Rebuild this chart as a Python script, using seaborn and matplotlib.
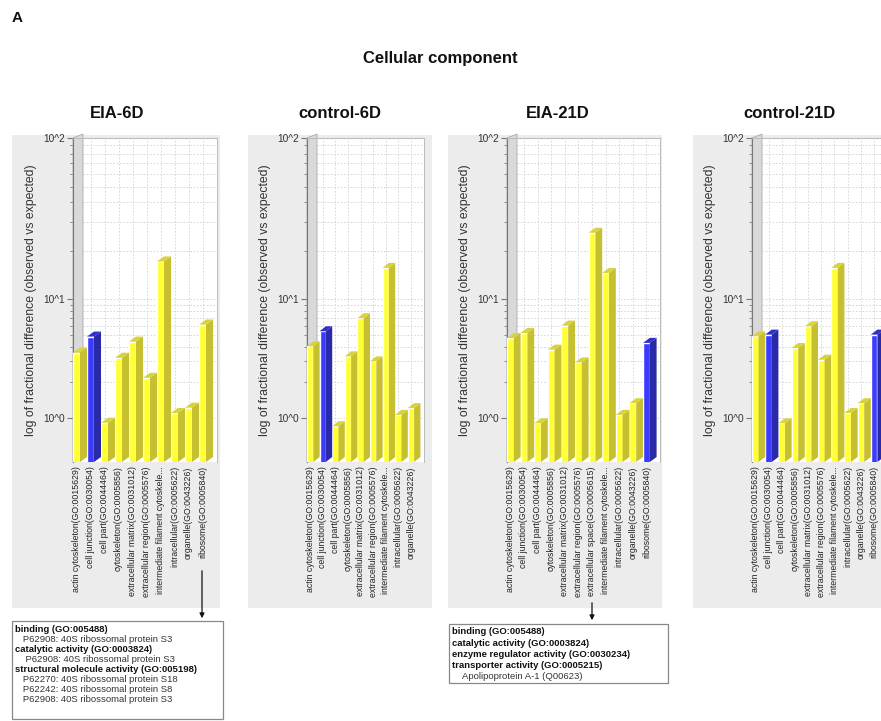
import numpy as np
import pandas as pd
import seaborn as sns
import matplotlib.pyplot as plt
from matplotlib.patches import Polygon, Rectangle, FancyArrowPatch

sns.set_style("white")
plt.rcParams['font.family'] = ['Liberation Sans', 'DejaVu Sans']

# GO cellular component terms
actin = "actin cytoskeleton(GO:0015629)"
junction = "cell junction(GO:0030054)"
cellpart = "cell part(GO:0044464)"
cytosk = "cytoskeleton(GO:0005856)"
ecm = "extracellular matrix(GO:0031012)"
ecreg = "extracellular region(GO:0005576)"
ecspace = "extracellular space(GO:0005615)"
intfil = "intermediate filament cytoskele..."
intra = "intracellular(GO:0005622)"
organelle = "organelle(GO:0043226)"
ribosome = "ribosome(GO:0005840)"

# values (fold: observed vs expected)
cats_eia6 = [actin, junction, cellpart, cytosk, ecm, ecreg, intfil, intra, organelle, ribosome]
vals_eia6 = [3.56, 4.86, 0.91, 3.22, 4.41, 2.18, 17.2, 1.10, 1.22, 6.14]
blue_eia6 = [junction]

cats_ctl6 = [actin, junction, cellpart, cytosk, ecm, ecreg, intfil, intra, organelle]
vals_ctl6 = [4.02, 5.39, 0.85, 3.31, 6.95, 3.00, 15.7, 1.06, 1.21]
blue_ctl6 = [junction]

cats_eia21 = [actin, junction, cellpart, cytosk, ecm, ecreg, ecspace, intfil, intra, organelle, ribosome]
vals_eia21 = [4.73, 5.22, 0.90, 3.77, 6.02, 2.94, 25.9, 14.6, 1.06, 1.33, 4.30]
blue_eia21 = [ribosome]

cats_ctl21 = [actin, junction, cellpart, cytosk, ecm, ecreg, intfil, intra, organelle, ribosome]
vals_ctl21 = [4.89, 5.05, 0.90, 3.89, 5.94, 3.10, 15.7, 1.10, 1.33, 5.05]
blue_ctl21 = [junction, ribosome]

box1_lines = [("binding (GO:005488)", True),
              ("   P62908: 40S ribossomal protein S3", False),
              ("catalytic activity (GO:0003824)", True),
              ("    P62908: 40S ribossomal protein S3", False),
              ("structural molecule activity (GO:005198)", True),
              ("   P62270: 40S ribossomal protein S18", False),
              ("   P62242: 40S ribossomal protein S8", False),
              ("   P62908: 40S ribossomal protein S3", False)]
box2_lines = [("binding (GO:005488)", True),
              ("catalytic activity (GO:0003824)", True),
              ("enzyme regulator activity (GO:0030234)", True),
              ("transporter activity (GO:0005215)", True),
              ("    Apolipoprotein A-1 (Q00623)", False)]

Y_FRONT, Y_SIDE, Y_TOP = "#ffff33", "#c6bf30", "#d8d23c"
B_FRONT, B_SIDE, B_TOP = "#3b3bff", "#2a2aa8", "#3030c8"

# the y axis in the picture is log but decades are not equally tall
LO, HI = 118.0, 161.0


def fwd(v):
    L = np.log10(np.clip(v, 1e-6, None))
    return np.where(L <= 1, L * LO, LO + (L - 1) * HI)


def inv(u):
    u = np.asarray(u, dtype=float)
    return np.where(u <= LO, 10 ** (u / LO), 10 ** (1 + (u - LO) / HI))


FLOOR = -44.0
D, DY = 0.5, 5.0

W, H = 881, 721
fig = plt.figure(figsize=(W / 100, H / 100), dpi=100)


def fx(x):
    return x / W


def fy(y):
    return 1 - y / H


def draw_panel(left, unit, cats, vals, blues, title, tcx):
    n = len(cats)
    wpx = (n + 0.25) * unit
    ax = fig.add_axes([fx(left), fy(462), wpx / W, (462 - 138) / H])
    df = pd.DataFrame({"term": cats, "value": vals})
    df["kind"] = np.where(df["term"].isin(blues), "blue", "yellow")
    sns.barplot(data=df, x="term", y="value", hue="kind", order=cats,
                palette={"yellow": Y_FRONT, "blue": B_FRONT}, width=0.5,
                dodge=False, legend=False, saturation=1, ax=ax, zorder=3)
    ax.set_yscale("function", functions=(fwd, inv))
    ax.set_ylim(float(inv(FLOOR)), 100)
    ax.set_xlim(-0.25, n)

    for p in ax.patches:
        top = p.get_height()
        if not np.isfinite(top) or top <= 0:
            continue
        x0 = p.get_x()
        x1 = x0 + p.get_width()
        i = int(round(x0 + p.get_width() / 2))
        is_blue = df["kind"].iloc[i] == "blue"
        ut = float(fwd(top))
        yb = float(inv(FLOOR))
        ybs = float(inv(FLOOR + DY))
        yts = float(inv(ut + DY))
        side = [(x1, yb), (x1 + D, ybs), (x1 + D, yts), (x1, top)]
        topf = [(x0, top), (x0 + D, yts), (x1 + D, yts), (x1, top)]
        ax.add_patch(Polygon(side, closed=True, lw=0,
                             facecolor=B_SIDE if is_blue else Y_SIDE, zorder=3.5))
        ax.add_patch(Polygon(topf, closed=True, lw=0,
                             facecolor=B_TOP if is_blue else Y_TOP, zorder=3.6))

    # left wall of the 3d box
    wx, wy = 10 / wpx, 4 / 324
    ax.add_patch(Polygon([(0, 0), (0, 1), (wx, 1 + wy), (wx, wy)], closed=True,
                         transform=ax.transAxes, clip_on=False,
                         facecolor="#d9d9d9", edgecolor="#aaaaaa", lw=0.6, zorder=1))

    ax.set_axisbelow(True)
    ax.grid(True, which="both", linestyle=(0, (2, 2)), color="#d2d2d2", lw=0.6)
    ax.set_yticks([1, 10, 100], ["10^0", "10^1", "10^2"])
    ax.set_yticks([2, 3, 4, 5, 6, 7, 8, 9, 20, 30, 40, 50, 60, 70, 80, 90],
                  [], minor=True)
    ax.tick_params(axis="y", which="both", left=True, direction="out",
                   color="#777777", labelsize=7.3, labelcolor="#333333", pad=2)
    ax.tick_params(axis="y", which="major", length=4)
    ax.tick_params(axis="y", which="minor", length=2)
    ax.set_xticks(range(n))
    ax.set_xticklabels(cats, rotation=90, fontsize=6.3, color="#222222")
    ax.tick_params(axis="x", length=0, pad=3)
    ax.set_xlabel("")
    ax.set_ylabel("log of fractional difference (observed vs expected)",
                  fontsize=8.8, color="#333333")
    ax.yaxis.set_label_coords(-36 / wpx, 0.5)
    for s in ["top", "right"]:
        ax.spines[s].set_color("#bbbbbb")
        ax.spines[s].set_linewidth(0.7)
    ax.spines["left"].set_color("#777777")
    ax.spines["left"].set_linewidth(0.8)
    ax.spines["bottom"].set_visible(False)

    fig.text(fx(tcx), fy(113), title, ha="center", va="center",
             fontsize=12, fontweight="bold", color="#111111")
    return ax


# gray panel backgrounds
for x0, x1 in [(12, 220), (248, 432), (448, 662), (693, 881)]:
    fig.patches.append(Rectangle((fx(x0), fy(608)), (x1 - x0) / W, (608 - 135) / H,
                                 transform=fig.transFigure, facecolor="#ececec",
                                 edgecolor="none", zorder=-1))

draw_panel(73, 14.0, cats_eia6, vals_eia6, blue_eia6, "EIA-6D", 117)
draw_panel(307, 12.6, cats_ctl6, vals_ctl6, blue_ctl6, "control-6D", 340)
draw_panel(507, 13.6, cats_eia21, vals_eia21, blue_eia21, "EIA-21D", 558)
draw_panel(752, 13.2, cats_ctl21, vals_ctl21, blue_ctl21, "control-21D", 790)

fig.text(fx(12), fy(18), "A", ha="left", va="center", fontsize=11,
         fontweight="bold", color="#111111")
fig.text(fx(440), fy(58), "Cellular component", ha="center", va="center",
         fontsize=12, fontweight="bold", color="#111111")


def text_box(x0, y0, x1, y1, lines, ytext, step):
    fig.patches.append(Rectangle((fx(x0), fy(y1)), (x1 - x0) / W, (y1 - y0) / H,
                                 transform=fig.transFigure, facecolor="white",
                                 edgecolor="#888888", lw=0.9, zorder=2))
    for k, (txt, bold) in enumerate(lines):
        fig.text(fx(x0 + 3), fy(ytext + k * step), txt, ha="left", va="center",
                 fontsize=6.8, fontweight="bold" if bold else "normal",
                 color="#111111" if bold else "#333333", zorder=3)


text_box(12, 621, 223, 719, box1_lines, 629, 10.0)
text_box(449, 624, 668, 683, box2_lines, 632, 11.2)

for xa, ya, yb in [(202, 568, 621), (592, 600, 623)]:
    fig.add_artist(FancyArrowPatch((fx(xa), fy(ya)), (fx(xa), fy(yb)),
                                   transform=fig.transFigure, arrowstyle="-|>",
                                   mutation_scale=7, color="#111111", lw=0.9))

fig.savefig("out.png", dpi=100)
